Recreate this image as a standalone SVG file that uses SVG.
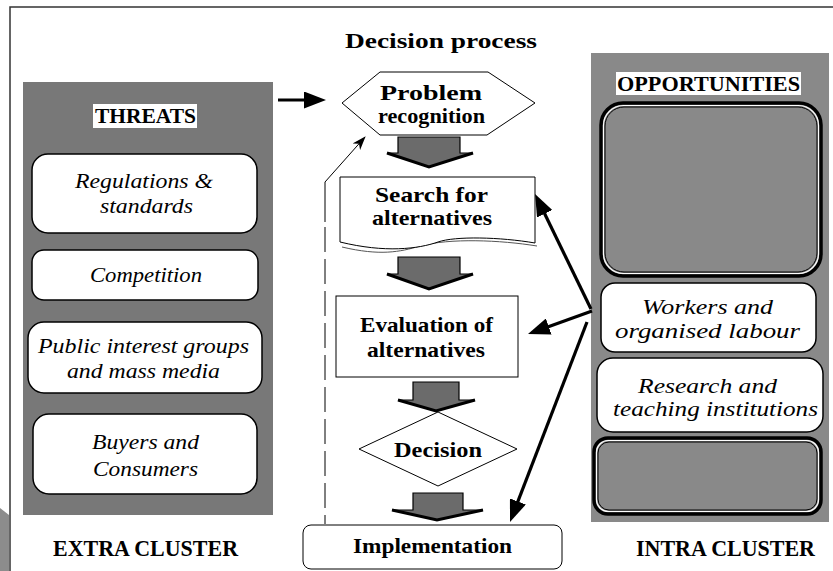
<svg xmlns="http://www.w3.org/2000/svg" width="833" height="571" viewBox="0 0 833 571">
  <style>
    .lbl { font-family: 'Liberation Serif', 'Times New Roman', serif; fill: #000; }
    .b { font-weight: bold; font-size: 22px; }
    .i { font-style: italic; font-size: 22px; }
    .box { fill: #fff; stroke: #000; stroke-width: 1.5; }
    .shape { fill: #fff; stroke: #000; stroke-width: 1; }
    .dbl-out { fill: none; stroke: #000; stroke-width: 3.5; }
    .dbl-mid { fill: none; stroke: #fff; stroke-width: 1.2; }
    .dbl-in { fill: none; stroke: #000; stroke-width: 1; }
    .blk { fill: #6b6b6b; stroke: #000; stroke-width: 1.2; stroke-linejoin: miter; }
    .blk-edge { fill: none; stroke: #000; stroke-width: 3; }
    .conn { fill: none; stroke: #000; stroke-width: 3.2; }
    .fb { fill: none; stroke: #000; stroke-width: 1; }
  </style>
  <defs>
    <marker id="head" markerUnits="userSpaceOnUse" markerWidth="22" markerHeight="17" refX="10" refY="8.5" orient="auto">
      <path d="M0,0 L22,8.5 L0,17 z" fill="#000"/>
    </marker>
    <marker id="thin" markerUnits="userSpaceOnUse" markerWidth="14" markerHeight="10" refX="13" refY="5" orient="auto">
      <path d="M0,0 L14,5 L0,10 L4,5 z" fill="#000"/>
    </marker>
  </defs>

  <rect width="833" height="571" fill="#fff"/>

  <!-- page frame -->
  <path d="M10,571 V7 H833" fill="none" stroke="#333" stroke-width="1.5"/>
  <polygon points="0,508 9,515 9,571 0,571" fill="#8c8c8c"/>

  <!-- title -->
  <text class="lbl b" x="345" y="48" textLength="192" lengthAdjust="spacingAndGlyphs">Decision process</text>

  <!-- threats panel -->
  <g id="threats">
    <rect x="23" y="82" width="250" height="433" fill="#787878"/>
    <rect x="93" y="104" width="104" height="24" fill="#fff"/>
    <text class="lbl b" x="95" y="123" textLength="101" lengthAdjust="spacingAndGlyphs" style="font-size:20px">THREATS</text>
  </g>
  <g id="regulations">
    <rect class="box" x="32" y="154" width="225" height="79" rx="16"/>
    <text class="lbl i" x="75" y="188" textLength="138" lengthAdjust="spacingAndGlyphs">Regulations &amp;</text>
    <text class="lbl i" x="100" y="213" textLength="93" lengthAdjust="spacingAndGlyphs">standards</text>
  </g>
  <g id="competition">
    <rect class="box" x="32" y="250" width="226" height="50" rx="12"/>
    <text class="lbl i" x="90" y="282" textLength="112" lengthAdjust="spacingAndGlyphs">Competition</text>
  </g>
  <g id="public">
    <rect class="box" x="28" y="322" width="234" height="71" rx="16"/>
    <text class="lbl i" x="38" y="353" textLength="211" lengthAdjust="spacingAndGlyphs">Public interest groups</text>
    <text class="lbl i" x="67" y="378" textLength="153" lengthAdjust="spacingAndGlyphs">and mass media</text>
  </g>
  <g id="buyers">
    <rect class="box" x="33" y="414" width="224" height="80" rx="16"/>
    <text class="lbl i" x="92" y="449" textLength="107" lengthAdjust="spacingAndGlyphs">Buyers and</text>
    <text class="lbl i" x="93" y="476" textLength="105" lengthAdjust="spacingAndGlyphs">Consumers</text>
  </g>
  <g id="extra-cluster">
    <text class="lbl b" x="53" y="556" textLength="185" lengthAdjust="spacingAndGlyphs" style="font-size:23px">EXTRA CLUSTER</text>
  </g>

  <!-- opportunities panel -->
  <g id="opportunities">
    <rect x="591" y="53" width="238" height="469" fill="#898989"/>
    <rect x="616" y="72" width="185" height="23" fill="#fff"/>
    <text class="lbl b" x="617" y="91" textLength="183" lengthAdjust="spacingAndGlyphs" style="font-size:20px">OPPORTUNITIES</text>
  </g>
  <g id="opp-empty-top">
    <rect x="601" y="103" width="220" height="173" rx="22" fill="#898989"/>
    <rect class="dbl-out" x="601" y="103" width="220" height="173" rx="22"/>
    <rect class="dbl-mid" x="603.5" y="105.5" width="215" height="168" rx="20"/>
    <rect class="dbl-in" x="605" y="107" width="212" height="165" rx="19"/>
  </g>
  <g id="workers">
    <rect class="box" x="601" y="283" width="215" height="69" rx="14"/>
    <text class="lbl i" x="642" y="314" textLength="131" lengthAdjust="spacingAndGlyphs">Workers and</text>
    <text class="lbl i" x="615" y="338" textLength="185" lengthAdjust="spacingAndGlyphs">organised labour</text>
  </g>
  <g id="research">
    <rect class="box" x="597" y="358" width="226" height="74" rx="16"/>
    <text class="lbl i" x="638" y="393" textLength="139" lengthAdjust="spacingAndGlyphs">Research and</text>
    <text class="lbl i" x="613" y="416" textLength="205" lengthAdjust="spacingAndGlyphs">teaching institutions</text>
  </g>
  <g id="opp-empty-bottom">
    <rect class="dbl-out" x="594" y="438" width="227" height="76" rx="14"/>
    <rect class="dbl-mid" x="596.5" y="440.5" width="222" height="71" rx="12"/>
    <rect class="dbl-in" x="598" y="442" width="219" height="68" rx="11"/>
  </g>
  <g id="intra-cluster">
    <text class="lbl b" x="636" y="556" textLength="179" lengthAdjust="spacingAndGlyphs" style="font-size:23px">INTRA CLUSTER</text>
  </g>

  <!-- decision process steps -->
  <g id="problem">
    <polygon class="shape" points="342,103 380,72 488,72 535,103 487,135 380,135"/>
    <text class="lbl b" x="380" y="100" textLength="102" lengthAdjust="spacingAndGlyphs">Problem</text>
    <text class="lbl b" x="378" y="123" textLength="107" lengthAdjust="spacingAndGlyphs">recognition</text>
  </g>
  <g id="search">
    <path d="M342,247 C380,256 400,252 420,246 C450,238 500,240 537,246" fill="none" stroke="#555" stroke-width="1"/>
    <path class="shape" d="M340,177 H535 V243 C500,237 455,236 438,242 C418,249 385,253 340,242 Z"/>
    <text class="lbl b" x="375" y="202" textLength="113" lengthAdjust="spacingAndGlyphs">Search for</text>
    <text class="lbl b" x="372" y="225" textLength="120" lengthAdjust="spacingAndGlyphs">alternatives</text>
  </g>
  <g id="evaluation">
    <rect class="shape" x="336" y="296" width="182" height="81"/>
    <text class="lbl b" x="360" y="332" textLength="133" lengthAdjust="spacingAndGlyphs">Evaluation of</text>
    <text class="lbl b" x="367" y="357" textLength="118" lengthAdjust="spacingAndGlyphs">alternatives</text>
  </g>
  <g id="decision">
    <polygon class="shape" points="359,449 438,412 517,449 438,486"/>
    <text class="lbl b" x="394" y="457" textLength="88" lengthAdjust="spacingAndGlyphs">Decision</text>
  </g>
  <g id="implementation">
    <rect class="shape" x="303" y="525" width="259" height="44" rx="8"/>
    <text class="lbl b" x="353" y="553" textLength="159" lengthAdjust="spacingAndGlyphs">Implementation</text>
  </g>

  <!-- connectors -->
  <g id="connectors">
    <!-- block arrows between steps -->
    <polygon class="blk" points="398,137 460,137 460,153 473,153 429,167 387,153 398,153"/>
    <path class="blk-edge" d="M387,153 L429,167 L473,153"/>
    <polygon class="blk" points="398,257 460,257 460,274 473,274 429,289 387,274 398,274"/>
    <path class="blk-edge" d="M387,274 L429,289 L473,274"/>
    <polygon class="blk" points="413,382 459,382 459,400 475,400 436,411 398,400 413,400"/>
    <path class="blk-edge" d="M398,400 L436,411 L475,400"/>
    <polygon class="blk" points="413,493 463,493 463,510 483,510 437,520 392,510 413,510"/>
    <path class="blk-edge" d="M392,510 L437,520 L483,510"/>

    <!-- feedback loop -->
    <path class="fb" d="M325,222 V182 L365,137" marker-end="url(#thin)"/>
    <path class="fb" d="M325,227 V524" stroke-dasharray="25 7"/>

    <!-- threats into problem recognition -->
    <path class="conn" d="M278,100 H314" marker-end="url(#head)"/>

    <!-- opportunities into steps -->
    <path class="conn" d="M591,309 L540.3,204.8" marker-end="url(#head)"/>
    <path class="conn" d="M592,311 L539.3,329.9" marker-end="url(#head)"/>
    <path class="conn" d="M587,322 L514.3,510.8" marker-end="url(#head)"/>
  </g>
</svg>
